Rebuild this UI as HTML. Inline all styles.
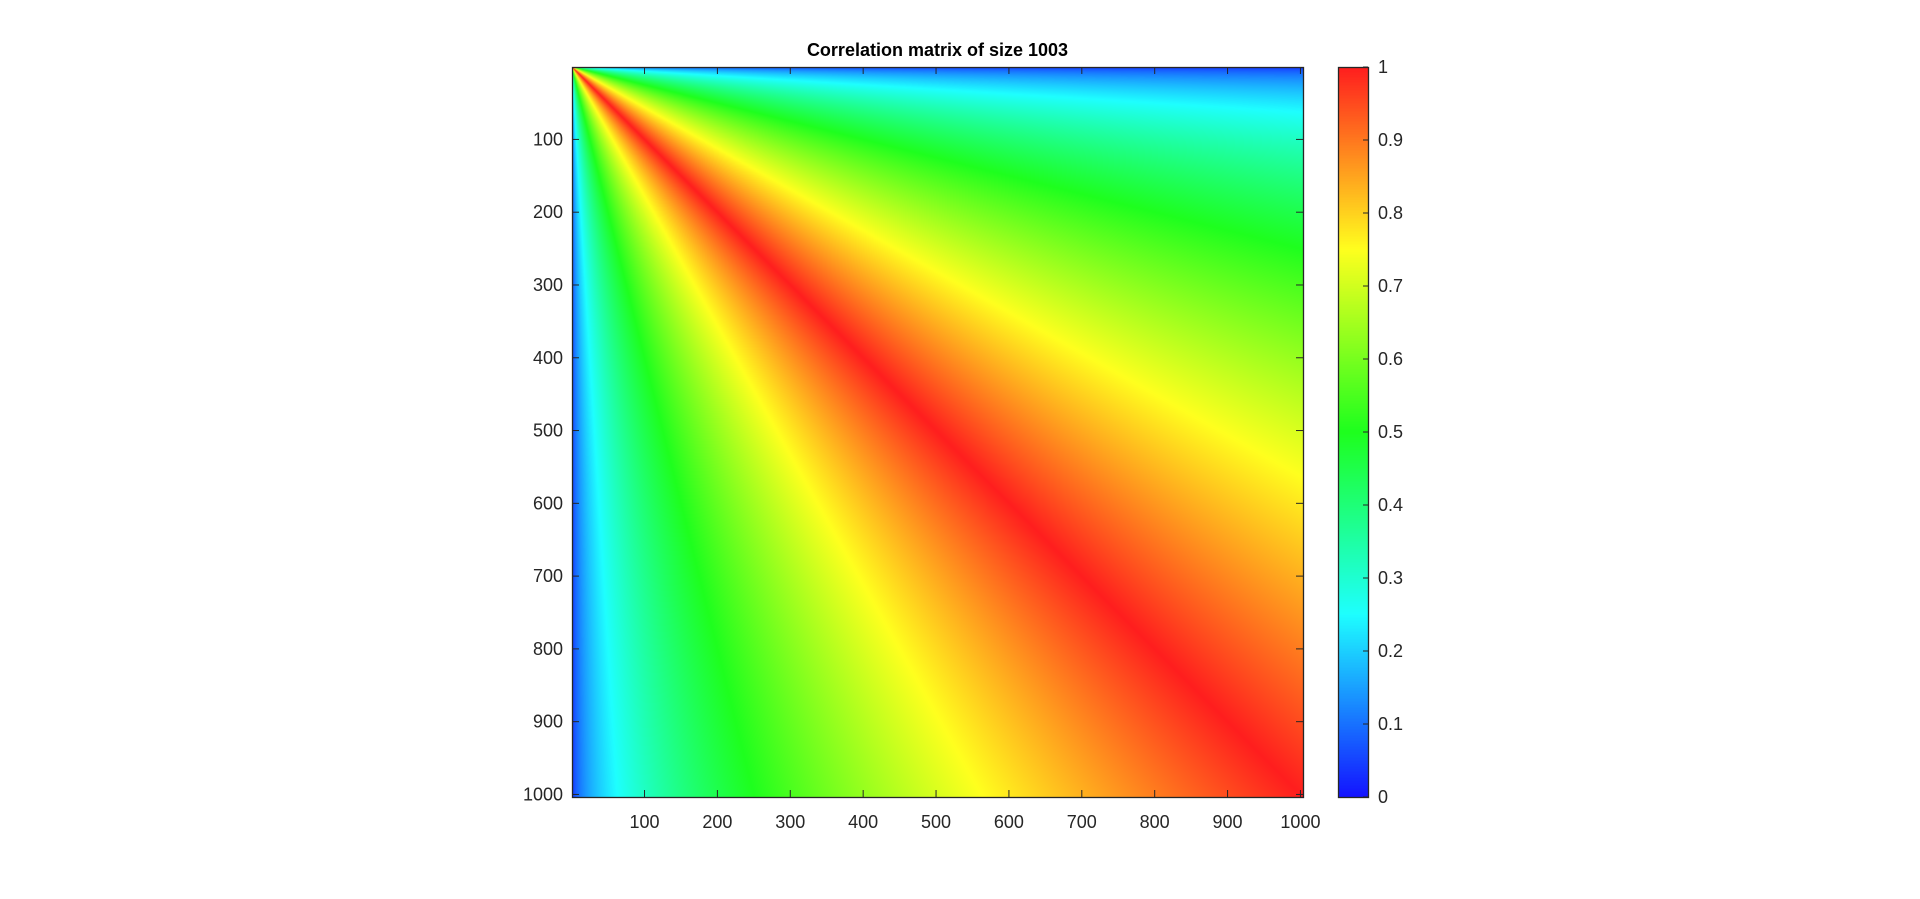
<!DOCTYPE html>
<html><head><meta charset="utf-8"><style>
body{margin:0;background:#fff;width:1920px;height:899px;overflow:hidden;font-family:"Liberation Sans",sans-serif}
#wrap{position:relative;width:1920px;height:899px}
.t{position:absolute;font-size:18px;color:#262626;white-space:nowrap}
</style></head><body>
<div id="wrap">
<div class="t" style="left:572px;width:731px;top:40px;text-align:center;font-weight:bold;color:#000">Correlation matrix of size 1003</div>
<canvas id="hm" width="731" height="730" style="position:absolute;left:572px;top:67px"></canvas>
<canvas id="cb" width="30" height="730" style="position:absolute;left:1338px;top:67px"></canvas>
<svg id="ov" width="1920" height="899" style="position:absolute;left:0;top:0"></svg>
</div>
<script>
const matrixSize = 1003;
const xTicks = [100,200,300,400,500,600,700,800,900,1000];
const yTicks = [100,200,300,400,500,600,700,800,900,1000];
const cbTicks = [0,0.1,0.2,0.3,0.4,0.5,0.6,0.7,0.8,0.9,1];
const cmapStops = [0,0.25,0.5,0.75,1];
const cmapColors = [[20,20,255],[30,255,255],[30,255,30],[255,255,30],[255,30,30]];
const AX={x:572,y:67,w:731,h:730}, CB={x:1338,y:67,w:30,h:730};
const xs=v=>AX.x+(v-0.5)/matrixSize*AX.w;
const ys=v=>AX.y+(v-0.5)/matrixSize*AX.h;
const cs=v=>CB.y+CB.h*(1-v);
function cmap(v){for(let k=0;k<cmapStops.length-1;k++){if(v<=cmapStops[k+1]){const t=(v-cmapStops[k])/(cmapStops[k+1]-cmapStops[k]);return cmapColors[k].map((c,i)=>c+(cmapColors[k+1][i]-c)*t);}}return cmapColors[cmapColors.length-1];}
function corr(i,j){return Math.sqrt(Math.min(i,j)/Math.max(i,j));}
const hm=document.getElementById('hm').getContext('2d');
const img=hm.createImageData(AX.w,AX.h);
for(let py=0;py<AX.h;py++){const i=(py+0.5)/AX.h*matrixSize+0.5;
for(let px=0;px<AX.w;px++){const j=(px+0.5)/AX.w*matrixSize+0.5;const c=cmap(corr(i,j));const o=(py*AX.w+px)*4;img.data[o]=c[0];img.data[o+1]=c[1];img.data[o+2]=c[2];img.data[o+3]=255;}}
hm.putImageData(img,0,0);
const cb=document.getElementById('cb').getContext('2d');
for(let py=0;py<CB.h;py++){const c=cmap(1-(py+0.5)/CB.h);cb.fillStyle=`rgb(${c[0]|0},${c[1]|0},${c[2]|0})`;cb.fillRect(0,py,CB.w,1);}
const ov=document.getElementById('ov');const NS='http://www.w3.org/2000/svg';
function el(tag,a){const e=document.createElementNS(NS,tag);for(const k in a)e.setAttribute(k,a[k]);ov.appendChild(e);return e;}
let r=el('rect',{x:AX.x+0.5,y:AX.y+0.5,width:AX.w,height:AX.h,fill:'none',stroke:'#262626','stroke-width':1.3});


r=el('rect',{x:CB.x+0.5,y:CB.y+0.5,width:CB.w,height:CB.h,fill:'none',stroke:'#262626','stroke-width':1.3});


function txt(x,y,s,anchor,name){const t=el('text',{x:x,y:y,'font-size':18,'text-anchor':anchor,fill:'#262626','font-family':'Liberation Sans, sans-serif'});t.textContent=s;

}
xTicks.forEach(v=>{const x=xs(v);el('line',{x1:x,y1:AX.y+AX.h,x2:x,y2:AX.y+AX.h-7,stroke:'#262626'});el('line',{x1:x,y1:AX.y,x2:x,y2:AX.y+7,stroke:'#262626'});txt(x,AX.y+AX.h+31,String(v),'middle','x-tick-label');});
yTicks.forEach(v=>{const y=ys(v);el('line',{x1:AX.x,y1:y,x2:AX.x+7,y2:y,stroke:'#262626'});el('line',{x1:AX.x+AX.w,y1:y,x2:AX.x+AX.w-7,y2:y,stroke:'#262626'});txt(AX.x-9,y+6,String(v),'end','y-tick-label');});
cbTicks.forEach(v=>{const y=cs(v);el('line',{x1:CB.x+CB.w,y1:y,x2:CB.x+CB.w-5,y2:y,stroke:'#262626'});txt(CB.x+CB.w+10,y+6,String(v),'start','colorbar-tick-label');});
</script>
</body></html>
